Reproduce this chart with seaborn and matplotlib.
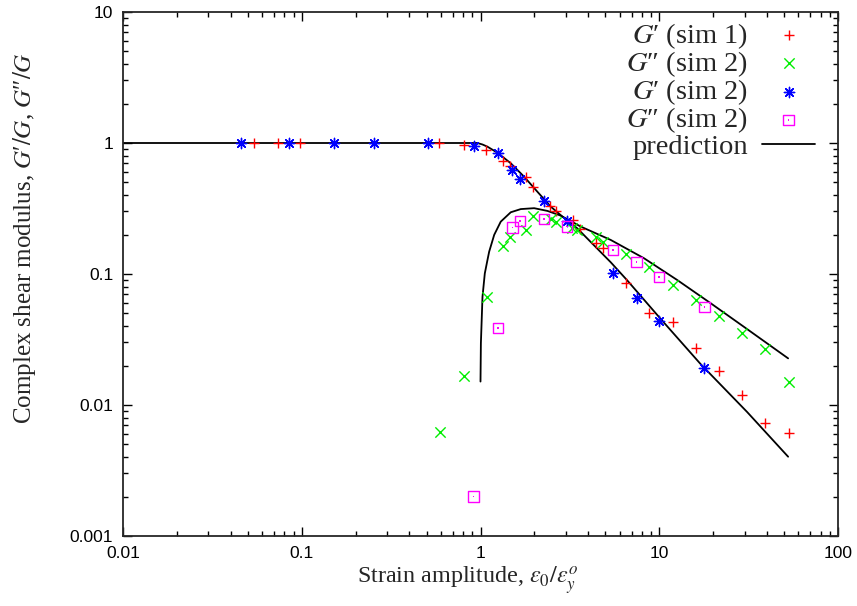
import numpy as np
import pandas as pd
import matplotlib
matplotlib.use("Agg")
import matplotlib.pyplot as plt
import seaborn as sns
from matplotlib.legend_handler import HandlerTuple
from matplotlib.ticker import LogLocator, FuncFormatter, NullFormatter

# ---------------- data ----------------
# G' (sim 1)  - red plus
sim1_gp_strain = [0.0544, 0.0734, 0.098, 0.588, 0.804, 1.07, 1.33, 1.47, 1.79, 1.97,
                  2.44, 2.66, 3.31, 3.61, 4.41, 4.85, 6.48, 8.76, 11.9, 16.1,
                  21.6, 29.1, 39.3, 53.0]
sim1_gp = [1.0, 1.0, 1.0, 1.0, 0.965, 0.884, 0.733, 0.671, 0.547, 0.464,
           0.330, 0.304, 0.258, 0.221, 0.173, 0.157, 0.0853, 0.0501, 0.0432, 0.0271,
           0.0183, 0.0119, 0.00724, 0.00615]

# G'' (green x)
sim1_gpp_strain = [0.593, 0.804, 1.084, 1.33, 1.46, 1.79, 1.97, 2.49, 2.66, 3.26,
                   3.48, 4.41, 4.85, 6.48, 8.76, 11.9, 16.1, 21.6, 29.1, 39.3, 53.0]
sim1_gpp = [0.00625, 0.0166, 0.0671, 0.164, 0.193, 0.217, 0.279, 0.263, 0.251, 0.223,
            0.217, 0.191, 0.177, 0.143, 0.1125, 0.0824, 0.0634, 0.0481, 0.0353, 0.0268, 0.0149]

# G' (sim 2) - blue asterisk
sim2_gp_strain = [0.0458, 0.0853, 0.152, 0.252, 0.506, 0.914, 1.256, 1.51, 1.667, 2.27,
                  3.06, 5.51, 7.47, 10.0, 17.9]
sim2_gp = [1.0, 1.0, 1.0, 1.0, 1.0, 0.95, 0.834, 0.622, 0.528, 0.363,
           0.254, 0.102, 0.0652, 0.0438, 0.0191]

# G'' (sim 2) - magenta square
sim2_gpp_strain = [0.914, 1.256, 1.51, 1.667, 2.27, 3.06, 5.51, 7.47, 10.0, 17.9]
sim2_gpp = [0.0020, 0.0385, 0.227, 0.255, 0.263, 0.230, 0.152, 0.123, 0.0954, 0.0557]

# prediction curves
pred_gp_strain = [0.01, 0.96, 1.026, 1.094, 1.244, 1.477, 1.754, 2.08, 2.47, 2.93,
                  3.48, 5.35, 6.63, 10.2, 17.0, 31.0, 52.6]
pred_gp = [1.0, 1.0, 0.974, 0.937, 0.843, 0.700, 0.553, 0.425, 0.327, 0.268,
           0.223, 0.123, 0.0892, 0.0453, 0.0206, 0.00885, 0.00403]

pred_gpp_strain = [1.0, 1.005, 1.026, 1.057, 1.094, 1.118, 1.193, 1.298, 1.477, 1.68,
                   1.996, 2.37, 2.81, 3.64, 5.35, 8.21, 12.6, 19.4, 29.7, 52.6]
pred_gpp = [0.0151, 0.0296, 0.067, 0.101, 0.128, 0.148, 0.199, 0.251, 0.296, 0.313,
            0.318, 0.303, 0.279, 0.230, 0.182, 0.132, 0.090, 0.0598, 0.0396, 0.0227]

x_ticks = [0.01, 0.1, 1, 10, 100]
y_ticks = [0.001, 0.01, 0.1, 1, 10]

labels = ["$G$\u2032 (sim 1)", "$G$\u2033 (sim 2)", "$G$\u2032 (sim 2)",
          "$G$\u2033 (sim 2)", "prediction"]

# ---------------- style ----------------
sns.set_style("ticks")
plt.rcParams["font.family"] = ["Liberation Serif", "DejaVu Serif"]
plt.rcParams["mathtext.fontset"] = "stix"
plt.rcParams["axes.linewidth"] = 1.3

fig = plt.figure(figsize=(8.57, 6.06), dpi=100)
ax = fig.add_axes([123 / 857, 70 / 606, 715 / 857, 524 / 606])

ax.set_xscale("log")
ax.set_yscale("log")

# prediction lines
sns.lineplot(x=pred_gp_strain, y=pred_gp, sort=False, estimator=None, color="black",
             linewidth=1.3, ax=ax)
h_line = ax.lines[-1]
sns.lineplot(x=pred_gpp_strain, y=pred_gpp, sort=False, estimator=None, color="black",
             linewidth=1.3, ax=ax)

ms = 55
sns.scatterplot(x=sim1_gp_strain, y=sim1_gp, marker="+", color="#ff0000", s=ms,
                linewidth=1.0, ax=ax, zorder=3)
h_red = ax.collections[-1]
sns.scatterplot(x=sim1_gpp_strain, y=sim1_gpp, marker="x", color="#00ee00", s=ms,
                linewidth=1.0, ax=ax, zorder=3)
h_green = ax.collections[-1]
sns.scatterplot(x=sim2_gp_strain, y=sim2_gp, marker=(8, 2, 0), color="#0000ff", s=ms,
                linewidth=1.0, ax=ax, zorder=3)
h_blue = ax.collections[-1]
sns.scatterplot(x=sim2_gpp_strain, y=sim2_gpp, marker="s", color="#ff00ff",
                facecolor="none", edgecolor="#ff00ff", s=ms, linewidth=1.0,
                ax=ax, zorder=3)
h_sq = ax.collections[-1]
sns.scatterplot(x=sim2_gpp_strain, y=sim2_gpp, marker="s", color="#ff00ff",
                edgecolor="none", s=1.5, linewidth=0, ax=ax, zorder=3)
h_dot = ax.collections[-1]

ax.set_xlim(0.01, 100)
ax.set_ylim(0.001, 10)

# ticks
for axis in (ax.xaxis, ax.yaxis):
    axis.set_major_locator(LogLocator(base=10, numticks=20))
    axis.set_minor_locator(LogLocator(base=10, subs=np.arange(2, 10), numticks=20))
    axis.set_major_formatter(FuncFormatter(lambda v, p: "%g" % v))
    axis.set_minor_formatter(NullFormatter())
ax.tick_params(which="both", direction="in", top=True, right=True, width=1.0,
               colors="black")
ax.tick_params(which="major", length=6.5, pad=7)
ax.tick_params(which="minor", length=3.8)
for lab in ax.get_xticklabels() + ax.get_yticklabels():
    lab.set_family(["Liberation Sans", "DejaVu Sans"])
    lab.set_fontsize(12.5)

ax.set_xlabel(r"Strain amplitude, $\epsilon_0/\epsilon_y^o$", fontsize=17.4, labelpad=4)
ax.xaxis.set_label_coords(0.4825, -0.055)
ax.set_ylabel("Complex shear modulus, $G$\u2032$/G$, $G$\u2033$/G$", fontsize=18)
ax.yaxis.set_label_coords(-0.119, 0.569)

# legend (text left, marker right)
leg_handles = [h_red, h_green, h_blue, (h_sq, h_dot), h_line]
leg = ax.legend(leg_handles, labels, loc="upper right",
                bbox_to_anchor=(0.968, 0.983), frameon=False, markerfirst=False,
                fontsize=20.5, labelspacing=-0.055, handlelength=1.86, handletextpad=0.49,
                borderpad=0, borderaxespad=0, scatterpoints=1,
                handler_map={tuple: HandlerTuple(ndivide=1)})

fig.savefig("out.png", dpi=100)
